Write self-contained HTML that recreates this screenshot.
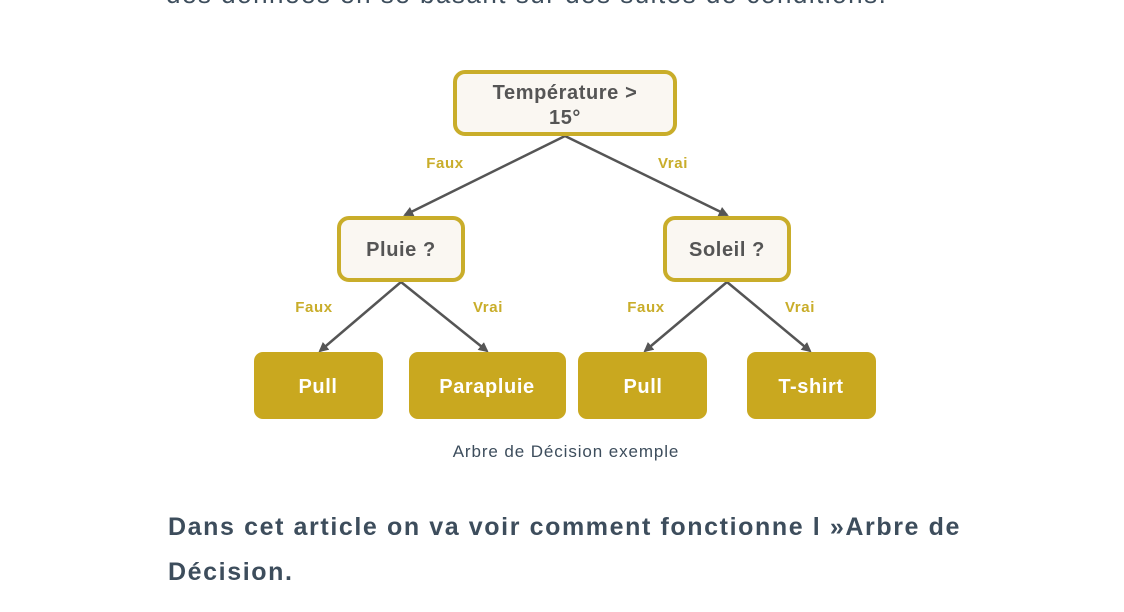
<!DOCTYPE html>
<html><head><style>
body{margin:0;width:1124px;height:612px;background:#fff;overflow:hidden;position:relative;font-family:"Liberation Sans",sans-serif}
.t{position:absolute;white-space:nowrap}
</style></head><body>
<div class="t" style="left:166px;top:-21px;font-size:26px;line-height:30px;color:#3d4d5c;letter-spacing:1.5px">des données en se basant sur des suites de conditions.</div>
<svg width="1124" height="612" style="position:absolute;left:0;top:0">
<defs><marker id="a" markerWidth="10" markerHeight="10" refX="8" refY="5" orient="auto" markerUnits="userSpaceOnUse"><path d="M0,0 L10,5 L0,10 z" fill="#555"/></marker></defs>
<g stroke="#555" stroke-width="2.5" marker-end="url(#a)">
<line x1="565" y1="136" x2="405" y2="215"/>
<line x1="565" y1="136" x2="727" y2="215"/>
<line x1="401" y1="282" x2="320" y2="351"/>
<line x1="401" y1="282" x2="487" y2="351"/>
<line x1="727" y1="282" x2="645" y2="351"/>
<line x1="727" y1="282" x2="810" y2="351"/>
</g>
<g fill="#faf7f2" stroke="#c9ad2a" stroke-width="4">
<rect x="455" y="72" width="220" height="62" rx="10"/>
<rect x="339" y="218" width="124" height="62" rx="10"/>
<rect x="665" y="218" width="124" height="62" rx="10"/>
</g>
<g fill="#c9a81f">
<rect x="254" y="352" width="129" height="67" rx="9"/>
<rect x="409" y="352" width="157" height="67" rx="9"/>
<rect x="578" y="352" width="129" height="67" rx="9"/>
<rect x="747" y="352" width="129" height="67" rx="9"/>
</g>
<g font-family="Liberation Sans,sans-serif" font-weight="bold" text-anchor="middle" letter-spacing="0.6">
<g fill="#555" font-size="20">
<text x="565" y="99">Température &gt;</text>
<text x="565" y="124">15°</text>
<text x="401" y="256">Pluie ?</text>
<text x="727" y="256">Soleil ?</text>
</g>
<g fill="#fff" font-size="20">
<text x="318" y="393">Pull</text>
<text x="487" y="393">Parapluie</text>
<text x="643" y="393">Pull</text>
<text x="811" y="393">T-shirt</text>
</g>
<g fill="#c9ad2a" font-size="15">
<text x="445" y="168">Faux</text>
<text x="673" y="168">Vrai</text>
<text x="314" y="312">Faux</text>
<text x="488" y="312">Vrai</text>
<text x="646" y="312">Faux</text>
<text x="800" y="312">Vrai</text>
</g>
</g>
<text x="566" y="457" text-anchor="middle" font-family="Liberation Sans,sans-serif" font-size="17" letter-spacing="0.9" fill="#3d4d5c">Arbre de Décision exemple</text>
</svg>
<div class="t" style="left:168px;top:505px;font-size:25px;font-weight:bold;color:#3d4d5c;line-height:45px;letter-spacing:1.6px">Dans cet article on va voir comment fonctionne l »Arbre de<br>Décision.</div>
</body></html>
